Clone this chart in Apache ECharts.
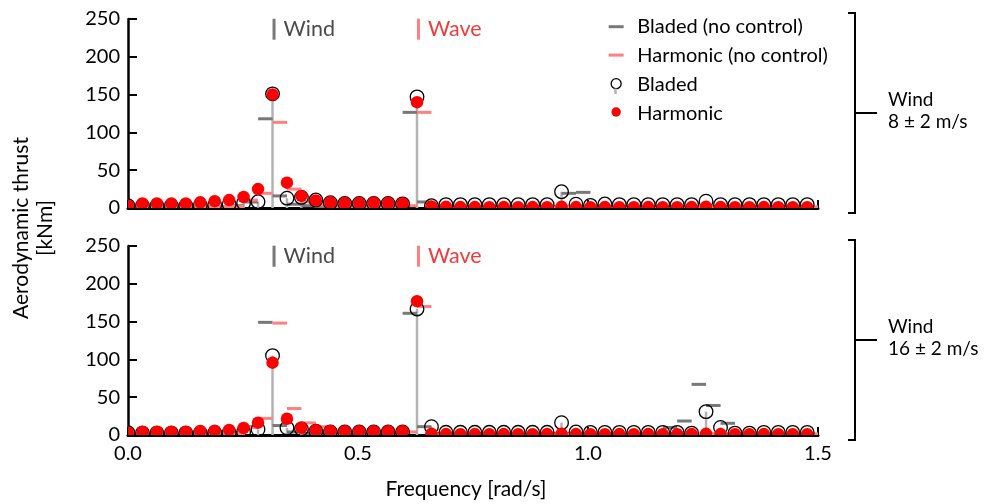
<!DOCTYPE html>
<html>
<head>
<meta charset="utf-8">
<script src="https://cdn.jsdelivr.net/npm/echarts@6/dist/echarts.min.js"></script>
<style>
html,body{margin:0;padding:0;background:#fff;}
#chart{width:994px;height:504px;}
</style>
</head>
<body>
<div id="chart"></div>
<script>
// Frequency grid [rad/s]
const freqs = [0, 0.0314, 0.0628, 0.0942, 0.1257, 0.1571, 0.1885, 0.2199, 0.2513, 0.2827,
  0.3142, 0.3456, 0.3770, 0.4084, 0.4398, 0.4712, 0.5027, 0.5341, 0.5655, 0.5969,
  0.6283, 0.6597, 0.6912, 0.7226, 0.7540, 0.7854, 0.8168, 0.8482, 0.8796, 0.9111,
  0.9425, 0.9739, 1.0053, 1.0367, 1.0681, 1.0996, 1.1310, 1.1624, 1.1938, 1.2252,
  1.2566, 1.2881, 1.3195, 1.3509, 1.3823, 1.4137, 1.4451, 1.4765];

// Top panel: Wind 8 ± 2 m/s
const greyTop = [1, 2, 2, 2, 2, 2, 2, 2, 3, 8, 118, 16, 5, 3, 2, 2, 2, 2, 2, 2,
  126.5, 8, 2, 2, 2, 2, 2, 2, 2, 2, 2, 19.4, 20.7, 2, 2, 2, 2, 2, 2, 2,
  2, 2, 2, 2, 2, 2, 2, 2];
const pinkTop = [2, 2, 2, 2, 2, 2, 2, 2, 10.5, 19.4, 113.3, 25, 8, 4, 2, 2, 2, 2, 2, 3,
  126.5, 1.5, 1.5, 1.5, 1.5, 1.5, 1.5, 1.5, 1.5, 1.5, 1.5, 1.5, 1.5, 1.5, 1.5, 1.5, 1.5, 1.5, 1.5, 1.5,
  1.5, 1.5, 1.5, 1.5, 1.5, 1.5, 1.5, 1.5];
const bladedTop = [3, 3, 3, 3, 3, 3.5, 4, 5, 6.5, 8.3, 151, 13, 14, 10.6, 7, 6, 6, 6, 6, 5.5,
  147, 3, 4.5, 4.5, 4.5, 4.5, 4.5, 4.5, 4.5, 4.5, 21.5, 5, 3.5, 5.3, 4.5, 4.5, 4.5, 4.5, 4.5, 4.5,
  9, 4.5, 4.5, 4.5, 4.5, 4.5, 4.5, 4.5];
const harmTop = [3, 6, 6, 6, 6, 7.5, 9, 10.5, 14.5, 25, 150, 33.5, 16, 10, 7.5, 6.5, 6.5, 7, 6.5, 6,
  140, 2, 1.5, 1.2, 1.2, 1.0, 1.2, 1.0, 1.2, 1.0, 1.5, 1.2, 1.0, 1.2, 1.0, 1.0, 1.2, 1.0, 1.0, 1.2,
  1.5, 1.2, 1.0, 1.0, 1.2, 1.0, 1.0, 1.0];

// Bottom panel: Wind 16 ± 2 m/s
const greyBot = [2, 2, 2, 2, 2, 2, 2, 2, 3, 11, 149, 12.5, 4, 2, 2, 2, 2, 2, 2, 2,
  161, 11, 2, 2, 2, 2, 2, 2, 2, 2, 2, 2, 2, 2, 2, 2, 2, 2, 10, 18.5,
  67, 39, 15.5, 2, 2, 2, 2, 2];
const pinkBot = [2, 2, 2, 2, 2, 2, 2, 2, 10, 22, 148, 35, 16, 11, 2.5, 2.5, 2.5, 2.5, 2.5, 4,
  170, 1.5, 1.5, 1.5, 1.5, 1.5, 1.5, 1.5, 1.5, 1.5, 1.5, 1.5, 1.5, 1.5, 1.5, 1.5, 1.5, 1.5, 1.5, 1.5,
  1.5, 1.5, 1.5, 1.5, 1.5, 1.5, 1.5, 1.5];
const bladedBot = [3, 2.5, 2.5, 2.5, 2.5, 2.5, 3, 3, 4, 7.5, 105, 9.5, 8, 5, 4, 4, 4, 4, 4, 4,
  166.7, 11, 3.6, 3.6, 3.6, 3.6, 3.6, 3.6, 3.6, 3.6, 16.3, 4, 3.5, 3.5, 3.5, 3.5, 3.5, 3.5, 3.5, 2.5,
  30.9, 10, 2.5, 2.5, 3.5, 3.5, 3.5, 3.5];
const harmBot = [3, 4.4, 4.4, 4.4, 4.4, 5.3, 5.7, 6.6, 9.3, 16.3, 95.7, 21.5, 9.5, 6.2, 5.3, 5, 5, 5, 5, 5,
  177, 1.5, 1.2, 1.0, 1.2, 1.0, 1.2, 1.0, 1.0, 1.2, 1.5, 1.2, 1.0, 1.0, 1.2, 1.0, 1.2, 1.0, 1.0, 1.2,
  1.5, 1.2, 1.0, 1.0, 1.2, 1.0, 1.0, 1.0];

// Annotation markers (frequency, height, text)
const markers = [
  { freq: 0.3142, y: 236.5, text: 'Wind' },
  { freq: 0.6283, y: 236.5, text: 'Wave' }
];
const panelLabels = [['Wind', '8 ± 2 m/s'], ['Wind', '16 ± 2 m/s']];

// Axis ticks
const xTicks = [0, 0.5, 1.0, 1.5];
const yTicks = [0, 50, 100, 150, 200, 250];

const FONT = 'Lato';
const GREY = '#787878', PINK = '#ff8080', RED = '#ff0000', STEM = '#b3b3b3';

function pairs(vals) { return freqs.map((f, k) => [f, vals[k]]); }

function segRender(offset, color) {
  return function (params, api) {
    const p = api.coord([api.value(0), api.value(1)]);
    return { type: 'rect', shape: { x: p[0] + offset - 7.25, y: p[1] - 1.5, width: 14.5, height: 3 },
      style: { fill: color } };
  };
}
function dotRender(r, style) {
  return function (params, api) {
    const p = api.coord([api.value(0), api.value(1)]);
    return { type: 'circle', shape: { cx: p[0], cy: p[1], r: r }, style: style };
  };
}

function panelSeries(i, grey, pink, bladed, harm) {
  const base = { type: 'custom', xAxisIndex: i, yAxisIndex: i, silent: true, clip: true };
  return [
    Object.assign({}, base, {
      data: pairs(bladed),
      renderItem: function (params, api) {
        const p0 = api.coord([api.value(0), 0]);
        const p1 = api.coord([api.value(0), api.value(1)]);
        return { type: 'line', shape: { x1: p0[0], y1: p0[1], x2: p1[0], y2: p1[1] },
          style: { stroke: STEM, lineWidth: 2.5 } };
      }
    }),
    Object.assign({}, base, {
      name: 'Bladed (no control)', itemStyle: { color: GREY },
      data: pairs(grey), renderItem: segRender(-7.2, GREY)
    }),
    Object.assign({}, base, {
      name: 'Harmonic (no control)', itemStyle: { color: PINK },
      data: pairs(pink), renderItem: segRender(7.2, PINK)
    }),
    Object.assign({}, base, {
      name: 'Bladed', itemStyle: { color: 'rgba(255,255,255,0)', borderColor: '#000', borderWidth: 1.3 },
      data: pairs(bladed),
      renderItem: dotRender(6.8, { fill: null, stroke: '#000', lineWidth: 1.3 })
    }),
    Object.assign({}, base, {
      name: 'Harmonic', itemStyle: { color: RED },
      data: pairs(harm),
      renderItem: dotRender(6.25, { fill: RED })
    }),
    {
      type: 'scatter', xAxisIndex: i, yAxisIndex: i, silent: true,
      symbol: 'rect', symbolSize: [3, 21], symbolOffset: [1.5, 0],
      itemStyle: { opacity: 1 },
      data: markers.map((m, j) => ({
        value: [m.freq, m.y],
        itemStyle: { color: j === 0 ? GREY : PINK, opacity: 1 },
        label: { show: true, position: 'right', distance: 8, formatter: m.text,
          color: j === 0 ? '#4a4a4a' : '#f23a3a', fontSize: 21.5, fontFamily: FONT }
      }))
    }
  ];
}

const legendIcons = {
  dash: 'path://M0,0M30,20M6.3,8.5L21.3,8.5L21.3,11.5L6.3,11.5Z',
  ring: 'path://M0,0M30,20M18.8,9.5A5,5,0,1,1,8.8,9.5A5,5,0,1,1,18.8,9.5Z',
  dot: 'path://M0,0M30,20M18.5,8.8A4.7,4.7,0,1,1,9.1,8.8A4.7,4.7,0,1,1,18.5,8.8Z'
};

function xAxisCfg(i) {
  return {
    gridIndex: i, type: 'value', min: xTicks[0], max: xTicks[xTicks.length - 1], interval: 0.5,
    axisLine: { show: true, onZero: false, lineStyle: { color: '#000', width: 3 } },
    axisTick: { show: true, inside: true, length: 8, lineStyle: { color: '#000', width: 2 } },
    axisLabel: { show: i === 1, color: '#000', fontSize: 20, fontFamily: FONT, margin: 9,
      formatter: v => v.toFixed(1) },
    splitLine: { show: false }
  };
}
function yAxisCfg(i) {
  return {
    gridIndex: i, type: 'value', min: yTicks[0], max: yTicks[yTicks.length - 1], interval: 50,
    axisLine: { show: true, onZero: false, lineStyle: { color: '#000', width: 2.5 } },
    axisTick: { show: true, inside: true, length: 9, lineStyle: { color: '#000', width: 2 } },
    axisLabel: { color: '#000', fontSize: 20, fontFamily: FONT, margin: 8 },
    splitLine: { show: false }
  };
}

function bracket(yTop, yBot, labels) {
  const yMid = (yTop + yBot) / 2;
  return [
    { type: 'polyline', shape: { points: [[848, yTop], [855, yTop], [855, yBot], [848, yBot]] },
      style: { stroke: '#000', lineWidth: 2, fill: null } },
    { type: 'line', shape: { x1: 855, y1: yMid, x2: 877, y2: yMid }, style: { stroke: '#000', lineWidth: 2 } },
    { type: 'text', x: 888, y: yMid - 13, style: { text: labels[0], fontSize: 19, fontFamily: FONT,
      fill: '#000', textAlign: 'left', textVerticalAlign: 'middle' } },
    { type: 'text', x: 888, y: yMid + 9, style: { text: labels[1], fontSize: 19, fontFamily: FONT,
      fill: '#000', textAlign: 'left', textVerticalAlign: 'middle' } }
  ];
}

const chart = echarts.init(document.getElementById('chart'), null, { renderer: 'canvas' });
chart.setOption({
  animation: false,
  backgroundColor: '#fff',
  textStyle: { fontFamily: FONT },
  grid: [
    { left: 128, top: 19, width: 690, height: 189 },
    { left: 128, top: 246, width: 690, height: 189 }
  ],
  xAxis: [xAxisCfg(0), xAxisCfg(1)],
  yAxis: [yAxisCfg(0), yAxisCfg(1)],
  legend: {
    orient: 'vertical', left: 601.7, top: 16.7, padding: 0,
    itemWidth: 30, itemHeight: 20, itemGap: 8.4,
    textStyle: { fontSize: 20, fontFamily: FONT, color: '#000', lineHeight: 20 },
    selectedMode: false,
    data: [
      { name: 'Bladed (no control)', icon: legendIcons.dash, itemStyle: { color: GREY, borderWidth: 0 } },
      { name: 'Harmonic (no control)', icon: legendIcons.dash, itemStyle: { color: PINK, borderWidth: 0 } },
      { name: 'Bladed', icon: legendIcons.ring,
        itemStyle: { color: 'rgba(255,255,255,0)', borderColor: '#000', borderWidth: 1.3 } },
      { name: 'Harmonic', icon: legendIcons.dot, itemStyle: { color: RED, borderWidth: 0 } }
    ]
  },
  graphic: [
    { type: 'line', shape: { x1: 615.5, y1: 88.5, x2: 615.5, y2: 94 }, style: { stroke: STEM, lineWidth: 2.5 }, z: 100 },
    { type: 'text', x: 21, y: 228, rotation: Math.PI / 2,
      style: { text: 'Aerodynamic thrust', fontSize: 21, fontFamily: FONT, fill: '#000',
        textAlign: 'center', textVerticalAlign: 'middle' } },
    { type: 'text', x: 45, y: 228, rotation: Math.PI / 2,
      style: { text: '[kNm]', fontSize: 21, fontFamily: FONT, fill: '#000',
        textAlign: 'center', textVerticalAlign: 'middle' } },
    { type: 'text', x: 466, y: 489,
      style: { text: 'Frequency [rad/s]', fontSize: 21, fontFamily: FONT, fill: '#000',
        textAlign: 'center', textVerticalAlign: 'middle' } }
  ].concat(bracket(13, 213, panelLabels[0]), bracket(240, 440, panelLabels[1])),
  series: [].concat(
    panelSeries(0, greyTop, pinkTop, bladedTop, harmTop),
    panelSeries(1, greyBot, pinkBot, bladedBot, harmBot)
  )
});
</script>
</body>
</html>
